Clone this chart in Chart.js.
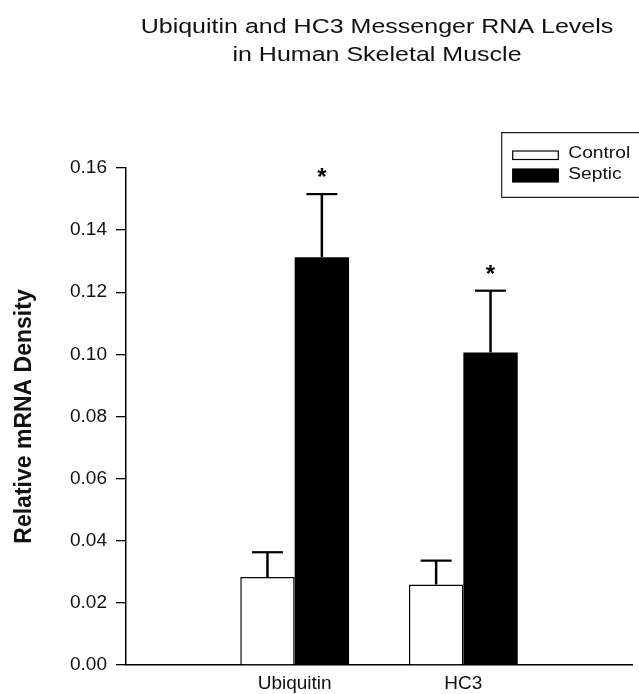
<!DOCTYPE html>
<html>
<head>
<meta charset="utf-8">
<script src="https://cdn.jsdelivr.net/npm/chart.js@4.4.1/dist/chart.umd.min.js"></script>
<style>
  html, body { margin: 0; padding: 0; background: #fff; }
  #wrap { width: 639px; height: 694px; position: relative; }
</style>
</head>
<body>
<div id="wrap"><canvas id="c" width="639" height="694"></canvas></div>
<script>
// ---- data ----
const titleLines = ['Ubiquitin and HC3 Messenger RNA Levels', 'in Human Skeletal Muscle'];
const categories = ['Ubiquitin', 'HC3'];
const seriesNames = ['Control', 'Septic'];
const controlValues = [0.0283, 0.0259];
const controlErrors = [0.0080, 0.0077];
const septicValues = [0.1313, 0.1006];
const septicErrors = [0.0203, 0.0199];
const septicSignificant = [true, true];
const yTicks = [0.00, 0.02, 0.04, 0.06, 0.08, 0.10, 0.12, 0.14, 0.16];
const yAxisTitle = 'Relative mRNA Density';

// padded category axis: blank slot at each end
const labels = [''].concat(categories, ['']);
const pad = arr => [null].concat(arr, [null]);

const FONT = '"Liberation Sans", Arial, Helvetica, sans-serif';

const overlayPlugin = {
  id: 'overlay',
  afterDatasetsDraw(chart) {
    const ctx = chart.ctx;
    const y = chart.scales.y;
    const errs = [controlErrors, septicErrors];
    const vals = [controlValues, septicValues];
    ctx.save();
    ctx.strokeStyle = '#000';
    ctx.fillStyle = '#000';
    for (let d = 0; d < 2; d++) {
      const meta = chart.getDatasetMeta(d);
      for (let i = 0; i < categories.length; i++) {
        const bar = meta.data[i + 1];
        const top = y.getPixelForValue(vals[d][i] + errs[d][i]);
        const base = y.getPixelForValue(vals[d][i]);
        ctx.lineWidth = 2.5;
        ctx.beginPath();
        ctx.moveTo(bar.x, base);
        ctx.lineTo(bar.x, top);
        ctx.stroke();
        ctx.lineWidth = 2.2;
        ctx.beginPath();
        ctx.moveTo(bar.x - 15.5, top);
        ctx.lineTo(bar.x + 15.5, top);
        ctx.stroke();
        if (d === 1 && septicSignificant[i]) {
          ctx.font = 'bold 24px ' + FONT;
          ctx.textAlign = 'center';
          ctx.textBaseline = 'alphabetic';
          ctx.fillText('*', bar.x, top - 23 + 14);
        }
      }
    }
    ctx.restore();
  },
  afterDraw(chart) {
    const ctx = chart.ctx;
    ctx.save();
    ctx.fillStyle = '#111';
    // title
    ctx.font = '20.5px ' + FONT;
    ctx.textAlign = 'center';
    ctx.textBaseline = 'alphabetic';
    const tb = [32.5, 61];
    titleLines.forEach((t, k) => {
      ctx.save();
      ctx.translate(377, tb[k]);
      ctx.scale(1.22, 1);
      ctx.fillText(t, 0, 0);
      ctx.restore();
    });
    // legend box (right edge runs off the picture)
    ctx.strokeStyle = '#222';
    ctx.lineWidth = 1.2;
    ctx.beginPath();
    ctx.moveTo(645, 132.7);
    ctx.lineTo(501.7, 132.7);
    ctx.lineTo(501.7, 197.3);
    ctx.lineTo(645, 197.3);
    ctx.stroke();
    const sw = [[151, 8.5], [169, 13]];
    const ds = chart.data.datasets;
    const tbl = [158.3, 179.3];
    for (let d = 0; d < 2; d++) {
      ctx.fillStyle = ds[d].backgroundColor;
      ctx.fillRect(512.7, sw[d][0], 45.6, sw[d][1]);
      ctx.strokeStyle = '#000';
      ctx.lineWidth = 1.2;
      ctx.strokeRect(512.7, sw[d][0], 45.6, sw[d][1]);
      ctx.fillStyle = '#111';
      ctx.font = '16px ' + FONT;
      ctx.textAlign = 'left';
      ctx.save();
      ctx.translate(568.3, tbl[d]);
      ctx.scale(1.2, 1);
      ctx.fillText(ds[d].label, 0, 0);
      ctx.restore();
    }
    ctx.restore();
  }
};

new Chart(document.getElementById('c'), {
  type: 'bar',
  data: {
    labels: labels,
    datasets: [
      {
        label: seriesNames[0],
        data: pad(controlValues),
        backgroundColor: '#ffffff',
        borderColor: '#000000',
        borderWidth: 1.5,
        borderSkipped: 'start'
      },
      {
        label: seriesNames[1],
        data: pad(septicValues),
        backgroundColor: '#000000',
        borderWidth: 0
      }
    ]
  },
  options: {
    responsive: false,
    animation: false,
    devicePixelRatio: 1,
    layout: { padding: { top: 168, right: 6, left: 0, bottom: 0 } },
    datasets: { bar: { categoryPercentage: 0.645, barPercentage: 1.0 } },
    plugins: {
      legend: { display: false },
      title: { display: false },
      tooltip: { enabled: false }
    },
    scales: {
      x: {
        type: 'category',
        offset: false,
        grid: { display: false, drawTicks: false },
        border: { display: true, color: '#000', width: 1.5 },
        ticks: {
          color: '#111',
          font: { family: FONT, size: 19 },
          padding: 7,
          maxRotation: 0,
          autoSkip: false
        },
        afterFit(s) { s.height = 29; }
      },
      y: {
        min: 0,
        max: 0.16,
        afterBuildTicks(s) { s.ticks = yTicks.map(v => ({ value: v })); },
        grid: { display: true, drawOnChartArea: false, drawTicks: true, tickLength: 10, color: '#000', lineWidth: 1.3 },
        border: { display: true, color: '#000', width: 1.5 },
        ticks: {
          color: '#111',
          font: { family: FONT, size: 19 },
          padding: 9,
          callback: v => Number(v).toFixed(2)
        },
        title: {
          display: true,
          text: yAxisTitle,
          color: '#111',
          font: { family: FONT, size: 23, weight: 'bold' },
          padding: { top: 11, bottom: 0 }
        },
        afterFit(s) { s.width = 126; }
      }
    }
  },
  plugins: [overlayPlugin]
});
</script>
</body>
</html>
